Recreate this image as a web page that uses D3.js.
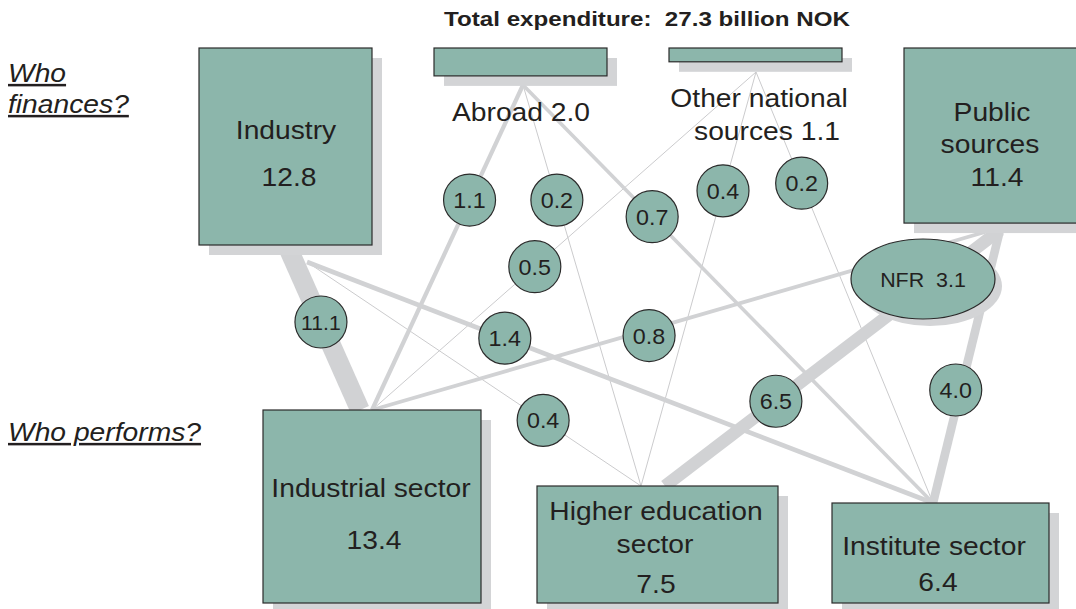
<!DOCTYPE html>
<html>
<head>
<meta charset="utf-8">
<script src="https://cdn.jsdelivr.net/npm/d3@7"></script>
<style>
  body { margin: 0; background: #fff; }
  text { font-family: "Liberation Sans", Arial, sans-serif; fill: #231f20; }
</style>
</head>
<body>
<svg id="chart"></svg>
<script>
// ---- data (billion NOK) ----
const totalExpenditure = 27.3;
const sources = ["Industry", "Abroad", "Other national sources", "Public sources"];
const sourceValues = [12.8, 2.0, 1.1, 11.4];
const sectors = ["Industrial sector", "Higher education sector", "Institute sector"];
const sectorValues = [13.4, 7.5, 6.4];
const flowFrom = ["Industry", "Industry", "Industry",
                  "Abroad", "Abroad", "Abroad",
                  "Other national sources", "Other national sources", "Other national sources",
                  "Public sources", "Public sources", "Public sources"];
const flowTo = ["Industrial sector", "Higher education sector", "Institute sector",
                "Industrial sector", "Higher education sector", "Institute sector",
                "Industrial sector", "Higher education sector", "Institute sector",
                "Industrial sector", "Higher education sector", "Institute sector"];
const flowValues = [11.1, 0.4, 1.4, 1.1, 0.2, 0.7, 0.5, 0.4, 0.2, 0.8, 6.5, 4.0];
const nfrValue = 3.1;

// ---- layout ----
const width = 1076, height = 609;
const fill = "#8cb6ab", edge = "#2b2b2b", shade = "#d3d4d6", lineCol = "#d1d2d4";
const sx = 1.13;          // the original type is a little wide
const shadow = 10;
const fmt = d3.format(".1f");

const topY = 48, topW = 173;
const sourceX = [199, 434, 669, 904];
const sourceAnchor = [[307, 262], [523, 85], [756, 72], [1000, 230]];
const sectorBox = [
  { x: 263, y: 410, w: 218, h: 193 },
  { x: 537, y: 486, w: 241, h: 117 },
  { x: 832, y: 503, w: 217, h: 100 }
];
const sectorAnchor = [[372, 410], [641, 486], [933, 503]];
// where along each line the value bubble sits, plus a few special line ends
const flowLayout = [
  { t: 0.45, from: [289, 250], to: [360, 410] },
  { t: 0.707 }, { t: 0.316 },
  { t: 0.354 }, { t: 0.287 }, { t: 0.315 },
  { t: 0.576 }, { t: 0.287 }, { t: 0.258 },
  { t: 0.548, from: [985, 232], nudge: [0, 6] },
  { t: 0.669, to: [665, 486] },
  { t: 0.586, nudge: [-5, 0] }
];
const nfr = { cx: 923, cy: 279, rx: 72, ry: 40 };

const sourceLines = [
  [sources[0], fmt(sourceValues[0])],
  [sources[1] + " " + fmt(sourceValues[1])],
  ["Other national", "sources " + fmt(sourceValues[2])],
  ["Public", "sources", fmt(sourceValues[3])]
];
const sourceTextPos = [[[286, 139], [289, 186]], [[521, 121]], [[759, 107], [767, 140]],
                       [[992, 121], [990, 153], [997, 186]]];
const sectorLines = [
  [sectors[0], fmt(sectorValues[0])],
  ["Higher education", "sector", fmt(sectorValues[1])],
  [sectors[2], fmt(sectorValues[2])]
];
const sectorTextPos = [[[371, 497], [374, 549]], [[656, 520], [655, 553], [656, 593]],
                       [[934, 555], [938, 591]]];

const svg = d3.select("#chart").attr("width", width).attr("height", height);

// top box height follows the amount
const boxH = d3.scaleLinear().domain([1.1, 12.8]).range([13.8, 197]);
// line width follows the flow; small flows are hairlines
const lineW = d3.scaleLinear().domain([0.7, 11.1]).range([3.6, 19.5]);
const widthOf = v => v < 0.6 ? 1 : lineW(v);

function label(g, txt, x, y, size, opts = {}) {
  return g.append("text")
    .attr("transform", `translate(${x},${y}) scale(${opts.scale || sx},1)`)
    .attr("text-anchor", opts.anchor || "middle")
    .style("font-size", size + "px")
    .style("font-weight", opts.bold ? "bold" : null)
    .style("font-style", opts.italic ? "italic" : null)
    .style("text-decoration", opts.underline ? "underline" : null)
    .style("white-space", "pre")
    .text(txt);
}

// flows
const flows = flowValues.map((v, i) => {
  const s = sources.indexOf(flowFrom[i]), k = sectors.indexOf(flowTo[i]);
  const L = flowLayout[i];
  const a = L.from || sourceAnchor[s], b = L.to || sectorAnchor[k];
  const p = d3.interpolate(a, b)(L.t);
  const n = L.nudge || [0, 0];
  return { v, a, b, cx: p[0] + n[0], cy: p[1] + n[1] };
});

svg.append("g").selectAll("line")
  .data(flows.slice().sort((p, q) => p.v - q.v))
  .enter()
  .append("line")
  .attr("x1", d => d.a[0]).attr("y1", d => d.a[1])
  .attr("x2", d => d.b[0]).attr("y2", d => d.b[1])
  .attr("stroke", d => d.v < 0.6 ? "#cbcbcd" : lineCol)
  .attr("stroke-width", d => widthOf(d.v));

// source boxes
const topRow = svg.append("g");
sources.forEach((name, i) => {
  const h = boxH(sourceValues[i]);
  topRow.append("rect").attr("x", sourceX[i] + shadow).attr("y", topY + shadow)
    .attr("width", topW).attr("height", h).attr("fill", shade);
  topRow.append("rect").attr("x", sourceX[i]).attr("y", topY)
    .attr("width", topW).attr("height", h)
    .attr("fill", fill).attr("stroke", edge).attr("stroke-width", 1.2);
});
sourceLines.forEach((lines, i) => {
  lines.forEach((t, j) => label(topRow, t, sourceTextPos[i][j][0], sourceTextPos[i][j][1], 25));
});

// sector boxes
const bottomRow = svg.append("g");
sectorBox.forEach(b => {
  bottomRow.append("rect").attr("x", b.x + shadow).attr("y", b.y + shadow)
    .attr("width", b.w).attr("height", b.h).attr("fill", shade);
  bottomRow.append("rect").attr("x", b.x).attr("y", b.y)
    .attr("width", b.w).attr("height", b.h)
    .attr("fill", fill).attr("stroke", edge).attr("stroke-width", 1.2);
});
sectorLines.forEach((lines, i) => {
  lines.forEach((t, j) => label(bottomRow, t, sectorTextPos[i][j][0], sectorTextPos[i][j][1], 25));
});

// NFR ellipse (part of public sources)
svg.append("ellipse").attr("cx", nfr.cx + 7).attr("cy", nfr.cy + 7)
  .attr("rx", nfr.rx).attr("ry", nfr.ry).attr("fill", shade);
svg.append("ellipse").attr("cx", nfr.cx).attr("cy", nfr.cy)
  .attr("rx", nfr.rx).attr("ry", nfr.ry)
  .attr("fill", fill).attr("stroke", edge).attr("stroke-width", 1.2);
label(svg, "NFR  " + fmt(nfrValue), nfr.cx, nfr.cy + 8, 21, { scale: 1.02 });

// value bubbles
const bub = svg.append("g").selectAll("g")
  .data(flows)
  .enter()
  .append("g");
bub.append("circle")
  .attr("cx", d => d.cx).attr("cy", d => d.cy).attr("r", 26)
  .attr("fill", fill).attr("stroke", edge).attr("stroke-width", 1.2);
bub.each(function (d) {
  const s = fmt(d.v);
  label(d3.select(this), s, d.cx, d.cy + 8, s.length > 3 ? 20 : 22, { scale: 1.06 });
});

// headings
label(svg, "Total expenditure:  " + fmt(totalExpenditure) + " billion NOK", 647, 26, 21, { bold: true, scale: 1.15 });
label(svg, "Who", 8, 82, 25, { anchor: "start", italic: true, underline: true });
label(svg, "finances?", 8, 113, 25, { anchor: "start", italic: true, underline: true });
label(svg, "Who performs?", 8, 441, 25, { anchor: "start", italic: true, underline: true });
</script>
</body>
</html>
